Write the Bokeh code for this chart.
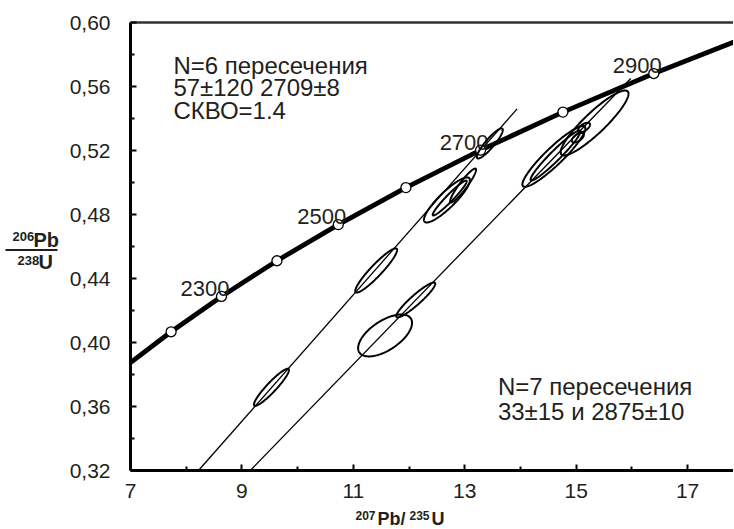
import numpy as np
from bokeh.plotting import figure
from bokeh.layouts import row, column
from bokeh.models import (Range1d, FixedTicker, LinearAxis, Label,
                          CustomJSTickFormatter, ColumnDataSource)
from bokeh.core.properties import value
from bokeh.embed import file_html
from bokeh.resources import INLINE

# ---------------- data ----------------
# Concordia reference points (age in Ma, 207Pb/235U, 206Pb/238U)
conc_age = [2100, 2200, 2300, 2400, 2500, 2600, 2700, 2800, 2900, 3000]
conc_x = [6.911, 7.729, 8.633, 9.629, 10.730, 11.944, 13.284, 14.762, 16.393, 18.193]
conc_y = [0.3851, 0.4067, 0.4288, 0.4511, 0.4737, 0.4968, 0.5202, 0.5440, 0.5681, 0.5927]
marker_ages = [2200, 2300, 2400, 2500, 2600, 2700, 2800, 2900]
label_ages = [2300, 2500, 2700, 2900]

# discordia chords (end points)
chord1_x = [8.22, 13.94]
chord1_y = [0.320, 0.546]
chord2_x = [9.15, 15.98]
chord2_y = [0.320, 0.565]

# group 1 (N=6) analyses: centre, half-extents, error correlation
g1_x = [9.53, 11.41, 12.68, 12.73, 12.97, 13.45]
g1_y = [0.3720, 0.4450, 0.4891, 0.4903, 0.4981, 0.5244]
g1_xe = [0.314, 0.376, 0.412, 0.305, 0.233, 0.233]
g1_ye = [0.0116, 0.0138, 0.0141, 0.0109, 0.0106, 0.0094]
g1_rho = [0.93, 0.93, 0.88, 0.96, 0.93, 0.90]

# group 2 (N=7) analyses
g2_x = [11.57, 12.12, 14.60, 14.63, 15.03, 15.14, 15.33]
g2_y = [0.4044, 0.4266, 0.5163, 0.5169, 0.5280, 0.5344, 0.5372]
g2_xe = [0.484, 0.350, 0.565, 0.448, 0.108, 0.108, 0.609]
g2_ye = [0.0131, 0.0109, 0.0190, 0.0156, 0.0030, 0.0030, 0.0203]
g2_rho = [0.60, 0.93, 0.92, 0.96, 0.60, 0.60, 0.90]

x_ticks = [7, 9, 11, 13, 15, 17]
x_minor = [8, 10, 12, 14, 16]
y_ticks = [0.32, 0.36, 0.40, 0.44, 0.48, 0.52, 0.56, 0.60]
y_minor = [0.34, 0.38, 0.42, 0.46, 0.50, 0.54, 0.58]

text1 = ["N=6 пересечения", "57±120 2709±8", "СКВО=1.4"]
text2 = ["N=7 пересечения", "33±15 и 2875±10"]

FONT = "Liberation Sans"
TXT = "#231f20"

W_LEFT, H_MAIN, W_MAIN, H_BOTTOM = 66, 508, 667, 21


def ellipse_pts(x0, y0, xe, ye, rho, n=160):
    t = np.linspace(0, 2 * np.pi, n)
    u = np.cos(t)
    v = rho * np.cos(t) + np.sqrt(1 - rho ** 2) * np.sin(t)
    return list(x0 + xe * u), list(y0 + ye * v)


p = figure(width=W_MAIN, height=H_MAIN, x_range=Range1d(7, 17.824), y_range=Range1d(0.32, 0.60),
           output_backend="svg", toolbar_location=None,
           min_border_left=63, min_border_right=0, min_border_top=22, min_border_bottom=38)
p.grid.visible = False
p.outline_line_color = None
p.background_fill_color = "white"
p.border_fill_color = "white"

for ax in (p.xaxis[0], p.yaxis[0]):
    ax.axis_line_width = 3
    ax.axis_line_color = "black"
    ax.major_tick_in = 6
    ax.major_tick_out = 0
    ax.minor_tick_in = 4
    ax.minor_tick_out = 0
    ax.major_tick_line_width = 2
    ax.minor_tick_line_width = 2
    ax.major_tick_line_color = "black"
    ax.minor_tick_line_color = "black"
    ax.major_label_text_font = FONT
    ax.major_label_text_font_size = "21px"
    ax.major_label_text_color = TXT

p.xaxis[0].ticker = FixedTicker(ticks=x_ticks, minor_ticks=x_minor)
p.yaxis[0].ticker = FixedTicker(ticks=y_ticks, minor_ticks=y_minor)
p.yaxis[0].formatter = CustomJSTickFormatter(code="return tick.toFixed(2).replace('.', ',');")
p.xaxis[0].major_label_standoff = 13
p.yaxis[0].major_label_standoff = 20

top_axis = LinearAxis(ticker=FixedTicker(ticks=[]), major_label_text_font_size="0px",
                      axis_line_width=2.5, axis_line_color="#333333",
                      major_tick_line_color=None, minor_tick_line_color=None)
p.add_layout(top_axis, "above")

# chords
p.line(chord1_x, chord1_y, line_color="black", line_width=1.3)
p.line(chord2_x, chord2_y, line_color="black", line_width=1.3)

# concordia
p.line(conc_x, conc_y, line_color="black", line_width=4.8)
msrc = ColumnDataSource(dict(
    x=[conc_x[conc_age.index(a)] for a in marker_ages],
    y=[conc_y[conc_age.index(a)] for a in marker_ages]))
p.scatter("x", "y", source=msrc, size=10, fill_color="white", line_color="black", line_width=1.3)
lsrc = ColumnDataSource(dict(
    x=[conc_x[conc_age.index(a)] for a in label_ages],
    y=[conc_y[conc_age.index(a)] for a in label_ages],
    t=[str(a) for a in label_ages]))
p.text("x", "y", text="t", source=lsrc, x_offset=8, y_offset=-8, text_align="right",
       text_baseline="middle", text_font_size="22px", text_color=TXT,
       text_font=value(FONT))

# error ellipses
xs, ys = [], []
for X, Y, XE, YE, R in zip(g1_x + g2_x, g1_y + g2_y, g1_xe + g2_xe, g1_ye + g2_ye, g1_rho + g2_rho):
    ex, ey = ellipse_pts(X, Y, XE, YE, R)
    xs.append(ex)
    ys.append(ey)
p.patches(xs, ys, fill_color=None, line_color="black", line_width=2)

# annotations
for yy, t in zip([0.5734, 0.5591, 0.5453], text1):
    p.add_layout(Label(x=7.77, y=yy, text=t, text_font=FONT,
                       text_font_size="24px", text_color=TXT, text_baseline="middle"))
for yy, t in zip([0.3725, 0.3569], text2):
    p.add_layout(Label(x=13.595, y=yy, text=t, text_font=FONT,
                       text_font_size="24px", text_color=TXT, text_baseline="middle"))

# ---- left strip: y-axis title as a fraction (coordinates are page pixels) ----
yl = figure(width=W_LEFT, height=H_MAIN, x_range=Range1d(0, W_LEFT), y_range=Range1d(H_MAIN, 0),
            output_backend="svg", toolbar_location=None, min_border=0,
            x_axis_type=None, y_axis_type=None)
yl.outline_line_color = None
yl.text(x=[12, 17], y=[243, 270], text=["206", "238"], text_font=value(FONT),
        text_font_size="13px", text_font_style="bold", text_color=TXT, text_baseline="middle")
yl.text(x=[33, 38], y=[247, 271.5], text=["Pb", "U"], text_font=value(FONT),
        text_font_size="20px", text_font_style="bold", text_color=TXT, text_baseline="middle")
yl.line([5, 57], [258, 258], line_color=TXT, line_width=2)

# ---- bottom strip: x-axis title ----
xl = figure(width=W_LEFT + W_MAIN, height=H_BOTTOM, x_range=Range1d(0, W_LEFT + W_MAIN),
            y_range=Range1d(H_MAIN + H_BOTTOM, H_MAIN),
            output_backend="svg", toolbar_location=None, min_border=0,
            x_axis_type=None, y_axis_type=None)
xl.outline_line_color = None
xl.text(x=[355, 409], y=[515, 515], text=["207", "235"], text_font=value(FONT),
        text_font_size="12px", text_font_style="bold", text_color=TXT, text_baseline="middle")
xl.text(x=[377, 431], y=[518.5, 518.5], text=["Pb/", "U"], text_font=value(FONT),
        text_font_size="18px", text_font_style="bold", text_color=TXT, text_baseline="middle")

layout = column(row(yl, p), xl)
open("out.html", "w").write(file_html(layout, INLINE))
